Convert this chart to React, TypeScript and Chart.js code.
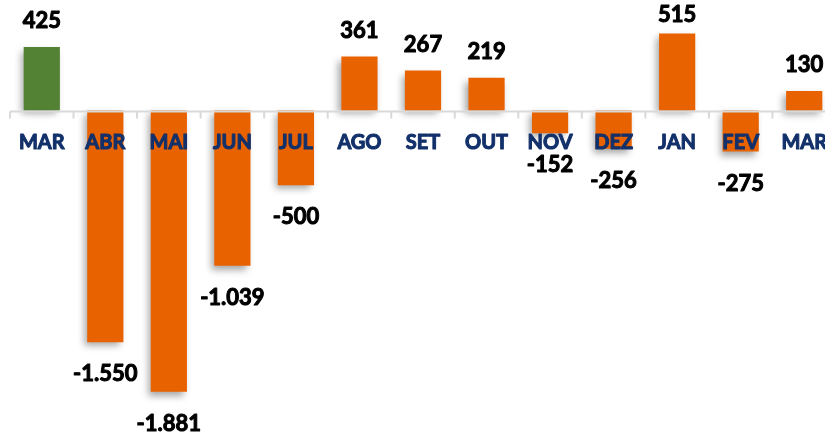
import React, { useEffect, useRef } from "react";
import { Chart, registerables } from "chart.js";

Chart.register(...registerables);

const categories = ["MAR", "ABR", "MAI", "JUN", "JUL", "AGO", "SET", "OUT", "NOV", "DEZ", "JAN", "FEV", "MAR"];
const values = [425, -1550, -1881, -1039, -500, 361, 267, 219, -152, -256, 515, -275, 130];
const barColors = ["#548235", "#E96200", "#E96200", "#E96200", "#E96200", "#E96200", "#E96200", "#E96200", "#E96200", "#E96200", "#E96200", "#E96200", "#E96200"];
const yMin = -2177;
const yMax = 739;

function fmt(v: number): string {
  const s = Math.abs(v).toString().replace(/\B(?=(\d{3})+(?!\d))/g, ".");
  return (v < 0 ? "-" : "") + s;
}

function boldText(ctx: CanvasRenderingContext2D, t: string, x: number, y: number, w: number) {
  ctx.lineWidth = w;
  ctx.lineJoin = "round";
  ctx.strokeText(t, x, y);
  ctx.fillText(t, x, y);
}

const decorPlugin = {
  id: "decor",
  beforeDatasetsDraw(chart: any) {
    const ctx = chart.ctx;
    ctx.save();
    ctx.shadowColor = "rgba(0,0,0,0.35)";
    ctx.shadowBlur = 7;
    ctx.shadowOffsetX = -3;
    ctx.shadowOffsetY = 4;
  },
  afterDatasetsDraw(chart: any) {
    const ctx = chart.ctx;
    ctx.restore();
    const { chartArea } = chart;
    const y = chart.scales.y;
    const x = chart.scales.x;
    const y0 = y.getPixelForValue(0);
    const n = categories.length;
    const cw = (chartArea.right - chartArea.left) / n;
    ctx.save();
    ctx.strokeStyle = "#d9d9d9";
    ctx.lineWidth = 2;
    ctx.beginPath();
    ctx.moveTo(chartArea.left, y0 + 1);
    ctx.lineTo(chartArea.right, y0 + 1);
    for (let i = 0; i <= n; i++) {
      const xx = chartArea.left + i * cw;
      ctx.moveTo(xx, y0 + 1);
      ctx.lineTo(xx, y0 + 8);
    }
    ctx.stroke();

    ctx.textAlign = "center";
    ctx.textBaseline = "middle";
    ctx.fillStyle = "#12306A";
    ctx.strokeStyle = "#12306A";
    ctx.font = "bold 20px Lato";
    categories.forEach((c, i) => {
      boldText(ctx, c, x.getPixelForValue(i), y0 + 32, 1);
    });

    ctx.fillStyle = "#000000";
    ctx.strokeStyle = "#000000";
    ctx.font = "bold 22px Lato";
    values.forEach((v, i) => {
      const px = x.getPixelForValue(i);
      const py = y.getPixelForValue(v);
      let ly = v >= 0 ? py - 26 : py + 32;
      if (ly < 15) ly = 15;
      boldText(ctx, fmt(v), px, ly, 1);
    });
    ctx.restore();
  },
};

export default function App() {
  const ref = useRef<HTMLCanvasElement>(null);
  useEffect(() => {
    document.body.style.overflow = "hidden";
    const chart = new Chart(ref.current!, {
      type: "bar",
      data: {
        labels: categories,
        datasets: [
          {
            data: values,
            backgroundColor: barColors,
            borderWidth: 0,
            categoryPercentage: 1,
            barPercentage: 0.57,
          },
        ],
      },
      options: {
        responsive: false,
        animation: false,
        devicePixelRatio: 1,
        layout: { padding: { left: 10, right: 0, top: 0, bottom: 0 } },
        plugins: { legend: { display: false }, tooltip: { enabled: false } },
        scales: {
          x: { display: false },
          y: { display: false, min: yMin, max: yMax },
        },
      },
      plugins: [decorPlugin],
    });
    return () => chart.destroy();
  }, []);
  return (
    <div style={{ position: "fixed", left: 0, top: 0, width: 825, height: 436, overflow: "hidden", background: "#fff" }}>
      <canvas ref={ref} width={836} height={436} style={{ display: "block" }} />
    </div>
  );
}
